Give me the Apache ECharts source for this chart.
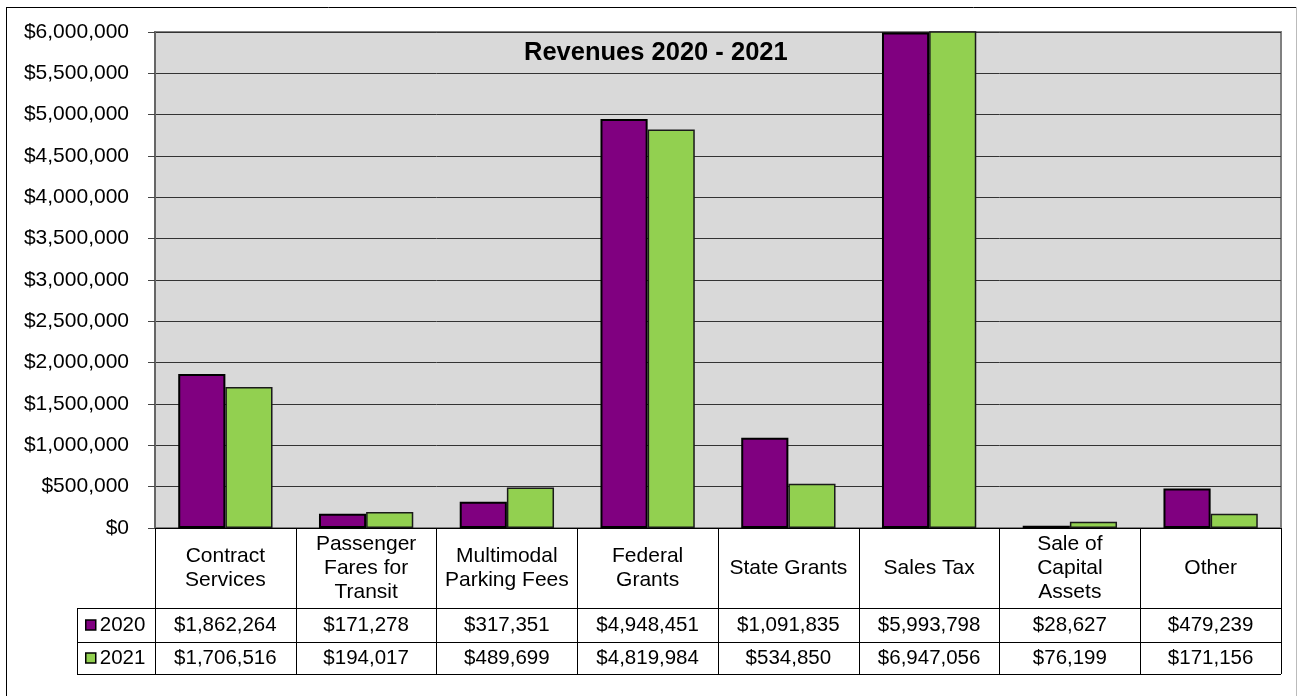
<!DOCTYPE html>
<html>
<head>
<meta charset="utf-8">
<script src="https://cdn.jsdelivr.net/npm/echarts@6/dist/echarts.min.js"></script>
<style>
html,body{margin:0;padding:0;background:#fff;}
#c{width:1297px;height:696px;}
</style>
</head>
<body>
<div id="c"></div>
<script>
// ---- data ----
const categories = ['Contract\nServices', 'Passenger\nFares for\nTransit', 'Multimodal\nParking Fees', 'Federal\nGrants', 'State Grants', 'Sales Tax', 'Sale of\nCapital\nAssets', 'Other'];
const seriesNames = ['2020', '2021'];
const values2020 = [1862264, 171278, 317351, 4948451, 1091835, 5993798, 28627, 479239];
const values2021 = [1706516, 194017, 489699, 4819984, 534850, 6947056, 76199, 171156];
const yTicks = {min: 0, max: 6000000, interval: 500000};
const titleText = 'Revenues 2020 - 2021';

function money(v) {
  return '$' + String(Math.round(v)).replace(/\B(?=(\d{3})+(?!\d))/g, ',');
}

const FONT = 'Liberation Sans, Arial, sans-serif';
const G = {left: 155, right: 1281, top: 32, bottom: 528};
const rowLines = [608, 642, 674];
const tableLeft = 77;

const chart = echarts.init(document.getElementById('c'), null, {renderer: 'canvas'});

const graphics = [
  {type: 'line', shape: {x1: 6, y1: 7.5, x2: 1296, y2: 7.5}, style: {stroke: '#000', lineWidth: 1}, z: 100},
  {type: 'line', shape: {x1: 6.5, y1: 7, x2: 6.5, y2: 700}, style: {stroke: '#000', lineWidth: 1}, z: 100},
  {type: 'line', shape: {x1: 1296.5, y1: 7, x2: 1296.5, y2: 700}, style: {stroke: '#bbb', lineWidth: 1}, z: 100},
  {type: 'line', shape: {x1: tableLeft + 0.5, y1: rowLines[0], x2: tableLeft + 0.5, y2: rowLines[2]}, style: {stroke: '#000', lineWidth: 1}, z: 100}
];
rowLines.forEach(y => {
  graphics.push({type: 'line', shape: {x1: tableLeft, y1: y + 0.5, x2: G.right, y2: y + 0.5}, style: {stroke: '#000', lineWidth: 1}, z: 100});
});

const labelBase = {fontFamily: FONT, fontSize: 20.5, color: '#000', verticalAlign: 'middle', interval: 0};

const option = {
  animation: false,
  backgroundColor: '#fff',
  title: {
    text: titleText, left: 524, top: 40, padding: 0,
    textStyle: {fontFamily: FONT, fontSize: 25.5, fontWeight: 'bold', color: '#000'}
  },
  legend: {
    data: seriesNames,
    orient: 'vertical', left: 85, top: 614, padding: 0,
    itemWidth: 10, itemHeight: 10, itemGap: 11,
    icon: 'rect',
    itemStyle: {borderColor: '#000', borderWidth: 1.5},
    textStyle: {fontFamily: FONT, fontSize: 20.5, color: '#000', lineHeight: 22, padding: [0, 0, 0, -1]}
  },
  grid: {
    left: G.left, top: G.top, width: G.right - G.left, height: G.bottom - G.top,
    show: true, backgroundColor: '#D9D9D9', borderColor: '#808080', borderWidth: 2
  },
  graphic: graphics,
  xAxis: [
    {
      type: 'category', data: categories, position: 'bottom',
      axisLine: {show: true, lineStyle: {color: '#000', width: 1}},
      axisTick: {show: true, length: rowLines[2] - G.bottom, lineStyle: {color: '#000', width: 1}, interval: 0},
      axisLabel: Object.assign({}, labelBase, {fontSize: 21, margin: 40, lineHeight: 24, align: 'center'}),
      splitLine: {show: false}
    },
    {
      type: 'category', data: categories, position: 'bottom',
      axisLine: {show: false}, axisTick: {show: false},
      axisLabel: Object.assign({}, labelBase, {margin: 97, formatter: (v, i) => money(values2020[i])})
    },
    {
      type: 'category', data: categories, position: 'bottom',
      axisLine: {show: false}, axisTick: {show: false},
      axisLabel: Object.assign({}, labelBase, {margin: 130, formatter: (v, i) => money(values2021[i])})
    }
  ],
  yAxis: {
    type: 'value', min: yTicks.min, max: yTicks.max, interval: yTicks.interval,
    axisLine: {show: true, lineStyle: {color: '#666', width: 2}},
    axisTick: {show: true, length: 7, lineStyle: {color: '#444', width: 1}},
    axisLabel: {fontFamily: FONT, fontSize: 21, color: '#000', margin: 26, formatter: v => money(v)},
    splitLine: {show: true, lineStyle: {color: '#333', width: 1}}
  },
  series: [
    {
      name: seriesNames[0], type: 'bar', data: values2020, xAxisIndex: 0,
      barGap: '0%', barCategoryGap: '33%', clip: true,
      itemStyle: {color: '#800080', borderColor: '#000', borderWidth: 2}
    },
    {
      name: seriesNames[1], type: 'bar', data: values2021, xAxisIndex: 0,
      barGap: '0%', barCategoryGap: '33%', clip: true,
      itemStyle: {color: '#92D050', borderColor: '#1a1a1a', borderWidth: 1.5}
    }
  ]
};
chart.setOption(option);
</script>
</body>
</html>
